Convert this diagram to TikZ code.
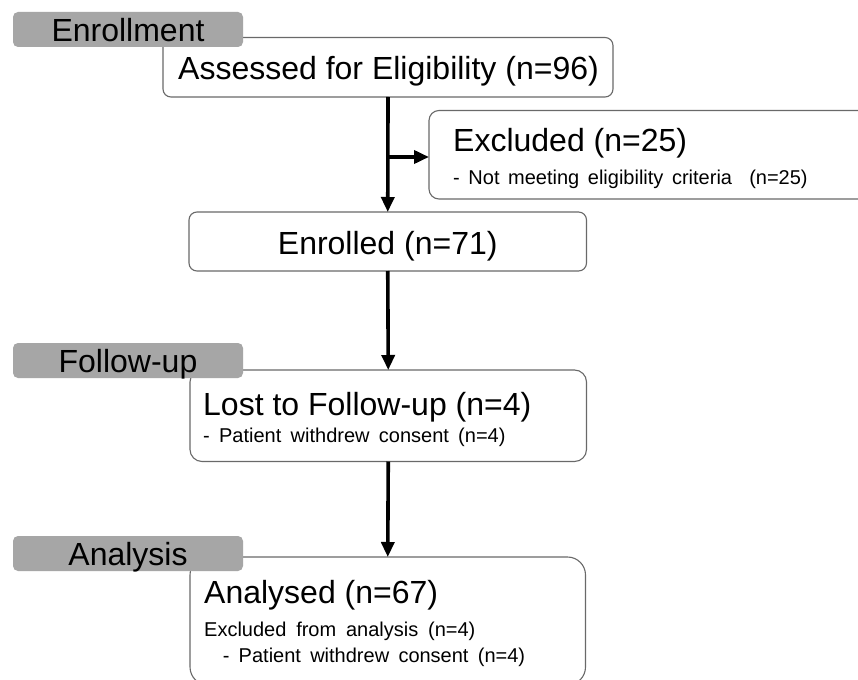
\documentclass[tikz,border=0pt]{standalone}
\usepackage{fontspec}
\setmainfont{Liberation Sans}
\usetikzlibrary{arrows.meta}
\definecolor{labelgray}{RGB}{166,166,166}
\definecolor{boxline}{RGB}{105,105,105}
\newcommand\bigf{\fontsize{32}{36}\selectfont}
\newcommand\smallf[1]{\fontsize{20}{24}\selectfont\spaceskip=#1em\relax}
\begin{document}
\begin{tikzpicture}[x=1pt,y=-1pt,
  flowbox/.style={draw=boxline,line width=1.1pt,fill=white,inner sep=0pt,outer sep=0pt},
  stagelabel/.style={fill=labelgray,rounded corners=5pt,inner sep=0pt,outer sep=0pt,
     minimum width=230pt,minimum height=35pt},
  bigtext/.style={inner sep=0pt,font=\bigf},
  flowarrow/.style={line width=3.6pt,-{Triangle[length=15pt,width=13pt]}}]
\useasboundingbox (0,0) rectangle (858,679);
\clip (0,0) rectangle (858,679);
\fill[white] (0,0) rectangle (858,679);
% boxes
\node[flowbox,rounded corners=8pt,minimum width=450pt,minimum height=59.5pt] (assess) at (388,67.25) {};
\node[flowbox,rounded corners=10pt,minimum width=451pt,minimum height=88.5pt] (excl) at (654.5,154.75) {};
\node[flowbox,rounded corners=8pt,minimum width=397.5pt,minimum height=59pt] (enrol) at (387.75,241.5) {};
\node[flowbox,rounded corners=12pt,minimum width=396.5pt,minimum height=91.5pt] (lost) at (388.25,415.75) {};
\node[flowbox,rounded corners=18pt,minimum width=395.5pt,minimum height=128pt] (anal) at (387.75,621) {};
% stage labels
\node[stagelabel] (lenrol) at (128,29.5) {};
\node[stagelabel] (lfollow) at (128,360.5) {};
\node[stagelabel] (lanal) at (128,553.5) {};
\node[bigtext,anchor=base] (tenrol) at (128,41.5) {Enrollment};
\node[bigtext,anchor=base] (tfollow) at (128,372) {Follow-up};
\node[bigtext,anchor=base] (tanal) at (128,565) {Analysis};
% texts
\node[bigtext,anchor=base west] (tassess) at (178,79.5) {Assessed for Eligibility (n=96)};
\node[bigtext,anchor=base west] (texcl) at (453,151.7) {Excluded (n=25)};
\node[inner sep=0pt,anchor=base west,font=\smallf{0.43}] (texcl2) at (453,184) {- Not meeting eligibility criteria \ (n=25)};
\node[bigtext,anchor=base] (tenrolled) at (387.75,254) {Enrolled (n=71)};
\node[bigtext,anchor=base west] (tlost) at (203,415) {Lost to Follow-up (n=4)};
\node[inner sep=0pt,anchor=base west,font=\smallf{0.465}] (tlost2) at (203,442.3) {- Patient withdrew consent (n=4)};
\node[bigtext,anchor=base west] (tanal1) at (204,603.3) {Analysed (n=67)};
\node[inner sep=0pt,anchor=base west,font=\smallf{0.49}] (tanal2) at (204,636) {Excluded from analysis (n=4)};
\node[inner sep=0pt,anchor=base west,font=\smallf{0.465}] (tanal3) at (222.6,662.7) {- Patient withdrew consent (n=4)};
% connectors
\coordinate (br) at (388,157);
\draw[flowarrow] (assess.south) -- (enrol.north);
\draw[flowarrow] (br) -- (br -| excl.west);
\draw[flowarrow] (enrol.south) -- (lost.north);
\draw[flowarrow] (lost.south) -- (anal.north);
\end{tikzpicture}
\end{document}
